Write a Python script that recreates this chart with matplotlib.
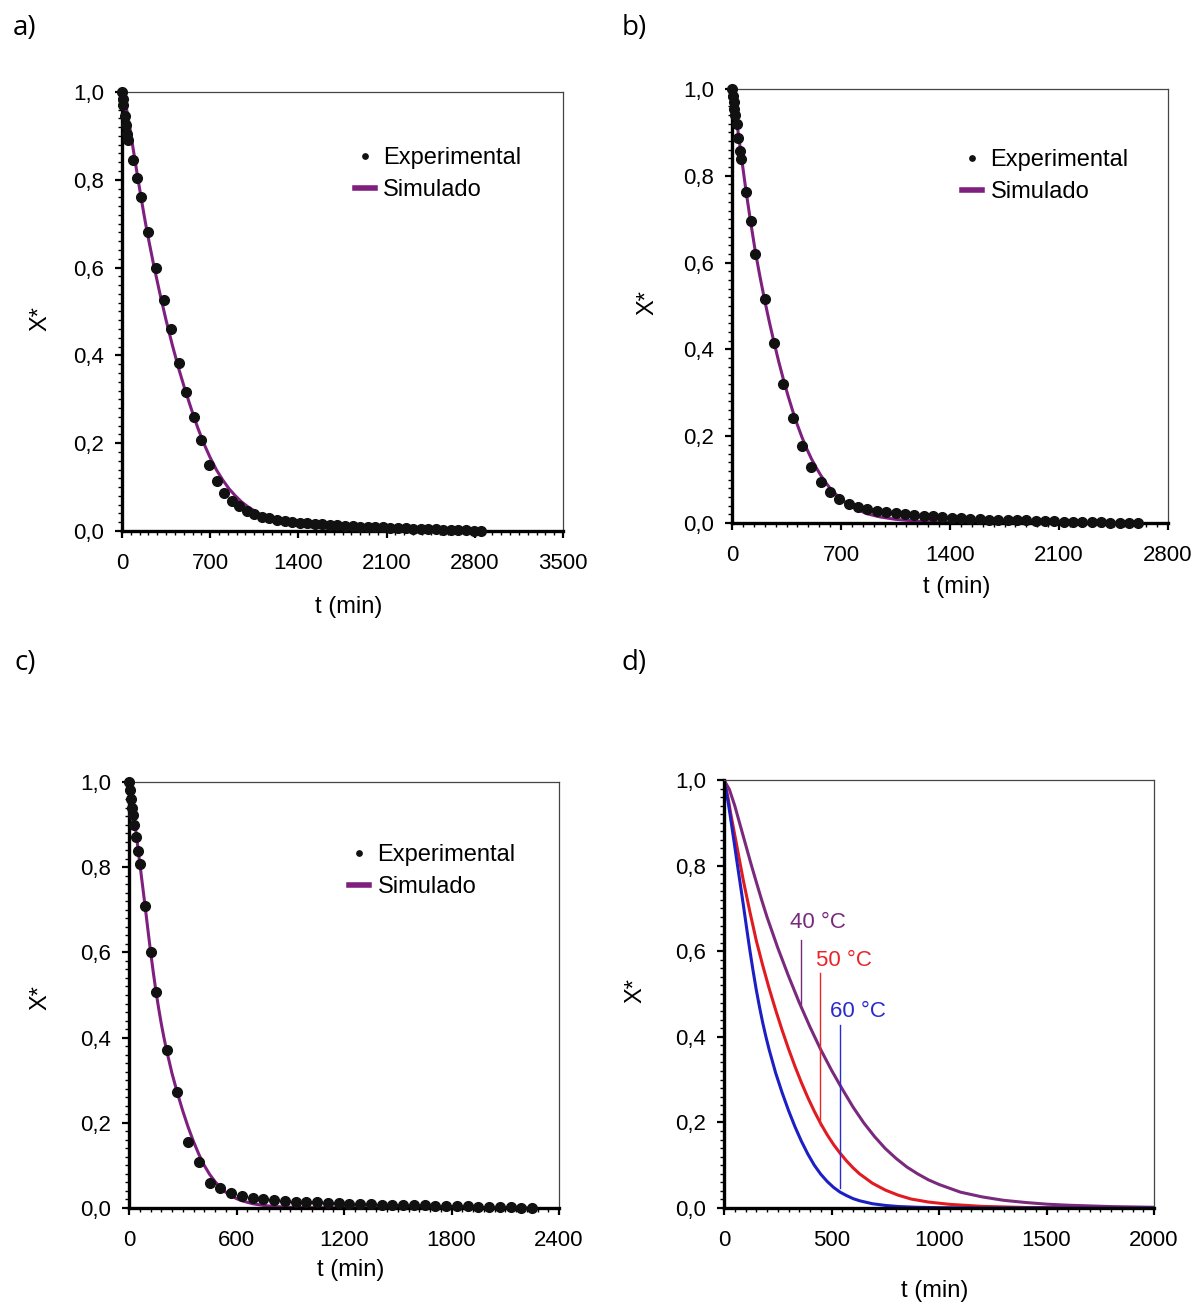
import matplotlib
matplotlib.use("Agg")
import matplotlib.pyplot as plt
from matplotlib.ticker import MultipleLocator, FuncFormatter

plt.rcParams['font.family'] = ['Liberation Sans', 'DejaVu Sans']

# --- experimental drying data (t in min, X* dimensionless) ---
t_40 = [0, 5, 10, 20, 30, 40, 50, 90, 120, 150, 210, 270, 330, 390, 450, 510, 570,
        630, 690, 750, 810, 870, 930, 990, 1050, 1110, 1170, 1230, 1290, 1350, 1410,
        1470, 1530, 1590, 1650, 1710, 1770, 1830, 1890, 1950, 2010, 2070, 2130, 2190,
        2250, 2310, 2370, 2430, 2490, 2550, 2610, 2670, 2730, 2790, 2850]
x_40 = [1.0, 0.985, 0.97, 0.945, 0.925, 0.905, 0.89, 0.845, 0.805, 0.76, 0.68, 0.60,
        0.527, 0.459, 0.383, 0.317, 0.259, 0.208, 0.151, 0.113, 0.087, 0.069, 0.056,
        0.045, 0.038, 0.032, 0.029, 0.026, 0.023, 0.021, 0.019, 0.018, 0.016, 0.015,
        0.014, 0.013, 0.012, 0.011, 0.010, 0.009, 0.009, 0.008, 0.007, 0.007, 0.006,
        0.005, 0.005, 0.004, 0.004, 0.003, 0.003, 0.002, 0.002, 0.001, 0.0]

t_50 = [0, 5, 10, 15, 20, 30, 40, 50, 60, 90, 120, 150, 210, 270, 330, 390, 450, 510,
        570, 630, 690, 750, 810, 870, 930, 990, 1050, 1110, 1170, 1230, 1290, 1350,
        1410, 1470, 1530, 1590, 1650, 1710, 1770, 1830, 1890, 1950, 2010, 2070, 2130,
        2190, 2250, 2310, 2370, 2430, 2490, 2550, 2610]
x_50 = [1.0, 0.985, 0.97, 0.955, 0.94, 0.92, 0.887, 0.857, 0.838, 0.763, 0.696, 0.619,
        0.517, 0.414, 0.321, 0.241, 0.177, 0.129, 0.095, 0.071, 0.055, 0.043, 0.037,
        0.032, 0.028, 0.025, 0.022, 0.020, 0.018, 0.016, 0.015, 0.013, 0.012, 0.011,
        0.010, 0.009, 0.008, 0.008, 0.007, 0.006, 0.006, 0.005, 0.004, 0.004, 0.003,
        0.003, 0.002, 0.002, 0.002, 0.001, 0.001, 0.001, 0.0]

t_60 = [0, 5, 10, 15, 20, 30, 40, 50, 60, 90, 120, 150, 210, 270, 330, 390, 450, 510,
        570, 630, 690, 750, 810, 870, 930, 990, 1050, 1110, 1170, 1230, 1290, 1350,
        1410, 1470, 1530, 1590, 1650, 1710, 1770, 1830, 1890, 1950, 2010, 2070, 2130,
        2190, 2250]
x_60 = [1.0, 0.982, 0.96, 0.94, 0.923, 0.90, 0.871, 0.839, 0.807, 0.708, 0.601, 0.508,
        0.370, 0.272, 0.155, 0.109, 0.059, 0.046, 0.035, 0.028, 0.0225, 0.020, 0.018,
        0.016, 0.015, 0.014, 0.013, 0.012, 0.011, 0.010, 0.009, 0.009, 0.008, 0.007,
        0.007, 0.006, 0.006, 0.005, 0.005, 0.004, 0.004, 0.003, 0.003, 0.002, 0.002,
        0.001, 0.0]

# --- simulated curves from the diffusion model ---
ts_40 = [0, 25, 50, 75, 100, 125, 150, 175, 200, 250, 300, 350, 400, 450, 500, 550,
         600, 650, 700, 750, 800, 850, 900, 950, 1000, 1100, 1200, 1300, 1400, 1500,
         1600, 1800, 2000, 2200, 2500, 2850]
xs_40 = [1.0, 0.978, 0.94, 0.895, 0.85, 0.805, 0.762, 0.72, 0.68, 0.608, 0.542, 0.48,
         0.423, 0.37, 0.322, 0.278, 0.236, 0.199, 0.167, 0.139, 0.116, 0.096, 0.08,
         0.066, 0.055, 0.037, 0.026, 0.018, 0.013, 0.009, 0.0065, 0.0033, 0.0017,
         0.0009, 0.0003, 0.0]

ts_50 = [0, 10, 20, 30, 45, 60, 90, 120, 150, 180, 210, 240, 270, 300, 330, 360, 390,
         420, 450, 480, 510, 540, 570, 600, 630, 690, 750, 810, 870, 950, 1050, 1200,
         1400, 1700, 2000, 2610]
xs_50 = [1.0, 0.98, 0.955, 0.925, 0.885, 0.845, 0.765, 0.693, 0.625, 0.567, 0.513,
         0.463, 0.416, 0.372, 0.331, 0.293, 0.258, 0.226, 0.197, 0.171, 0.148, 0.128,
         0.11, 0.094, 0.08, 0.058, 0.042, 0.03, 0.021, 0.014, 0.0085, 0.0038, 0.0013,
         0.0004, 0.0001, 0.0]

ts_60 = [0, 10, 20, 30, 45, 60, 75, 90, 105, 120, 135, 150, 165, 180, 195, 210, 240,
         270, 300, 330, 360, 390, 420, 450, 480, 510, 540, 570, 600, 630, 690, 750,
         810, 900, 1000, 1200, 2250]
xs_60 = [1.0, 0.975, 0.946, 0.913, 0.862, 0.81, 0.759, 0.708, 0.655, 0.603, 0.555,
         0.51, 0.47, 0.433, 0.4, 0.37, 0.316, 0.27, 0.228, 0.19, 0.156, 0.126, 0.1,
         0.079, 0.062, 0.048, 0.037, 0.029, 0.022, 0.017, 0.01, 0.006, 0.0035, 0.0017,
         0.0008, 0.0001, 0.0]

SIM = '#7f1f80'
W, H = 1203, 1306


def frame(rect):
    # rect in pixels: left, top, right, bottom
    l, t, r, b = rect
    return [l / W, 1 - b / H, (r - l) / W, (b - t) / H]


def style_axes(ax, xmax, xstep, xminor):
    ax.set_xlim(0, xmax)
    ax.set_ylim(0, 1.0)
    ax.xaxis.set_major_locator(MultipleLocator(xstep))
    ax.xaxis.set_minor_locator(MultipleLocator(xminor))
    ax.yaxis.set_major_locator(MultipleLocator(0.2))
    ax.yaxis.set_minor_locator(MultipleLocator(0.02))
    ax.yaxis.set_major_formatter(FuncFormatter(lambda v, p: f'{v:.1f}'.replace('.', ',')))
    ax.tick_params(which='major', direction='out', length=5, width=1.6,
                   labelsize=16, top=False, right=False)
    ax.tick_params(axis='x', which='major', pad=11)
    ax.tick_params(axis='y', which='major', pad=8)
    ax.tick_params(which='minor', direction='out', length=3, width=1.0,
                   top=False, right=False)
    for s in ['left', 'bottom']:
        ax.spines[s].set_linewidth(2.4)
        ax.spines[s].set_color('black')
    for s in ['top', 'right']:
        ax.spines[s].set_linewidth(0.9)
        ax.spines[s].set_color('#444444')


def labels(ax, xl, yl):
    ax.set_xlabel('t (min)', fontsize=17)
    ax.set_ylabel('X*', fontsize=17)
    ax.xaxis.set_label_coords(*xl)
    ax.yaxis.set_label_coords(*yl)
    ax.xaxis.label.set_va('center')
    ax.yaxis.label.set_va('center')


def fit_panel(ax, t, x, ts, xs, leg_anchor):
    ax.plot(ts, xs, color=SIM, lw=2.2, label='Simulado', zorder=2)
    ax.plot(t, x, 'o', color='#111111', ms=7, label='Experimental', zorder=3,
            clip_on=False)
    h, lab = ax.get_legend_handles_labels()
    leg = ax.legend(h[::-1], lab[::-1], loc='upper left', bbox_to_anchor=leg_anchor,
                    frameon=False, fontsize=17, handlelength=0.85, handletextpad=0.35,
                    borderpad=0, borderaxespad=0, labelspacing=0.42, markerscale=0.55)
    leg.legend_handles[1].set_linewidth(4)


fig = plt.figure(figsize=(W / 100, H / 100), dpi=100)

ax_a = fig.add_axes(frame((122, 92, 563, 531)))
fit_panel(ax_a, t_40, x_40, ts_40, xs_40, (0.528, 0.874))
style_axes(ax_a, 3500, 700, 70)
labels(ax_a, (0.515, -0.173), (-0.186, 0.485))

ax_b = fig.add_axes(frame((732, 89, 1168, 523)))
fit_panel(ax_b, t_50, x_50, ts_50, xs_50, (0.528, 0.861))
style_axes(ax_b, 2800, 700, 70)
labels(ax_b, (0.516, -0.147), (-0.193, 0.507))

ax_c = fig.add_axes(frame((129, 782, 559, 1208)))
fit_panel(ax_c, t_60, x_60, ts_60, xs_60, (0.512, 0.854))
style_axes(ax_c, 2400, 600, 60)
labels(ax_c, (0.516, -0.146), (-0.207, 0.495))

# temperature comparison of the simulated curves
ax_d = fig.add_axes(frame((724, 780, 1154, 1208)))
temps = ['40 °C', '50 °C', '60 °C']
curve_colors = ['#7a2a7c', '#e01b22', '#1c1fc4']
text_colors = ['#7a2a7c', '#e8262a', '#2a2ad0']
label_t = [356, 448, 541]
label_pos = [(308, 0.666), (429, 0.579), (494, 0.458)]
leader_top = [0.626, 0.549, 0.427]
leader_bottom = [0.476, 0.195, 0.046]
for ts, xs, c in zip([ts_40, ts_50, ts_60], [xs_40, xs_50, xs_60], curve_colors):
    ax_d.plot(ts, xs, color=c, lw=2.2)
for name, tc, lt, (tx, ty), top, bot in zip(temps, text_colors, label_t, label_pos,
                                            leader_top, leader_bottom):
    ax_d.plot([lt, lt], [bot, top], color=tc, lw=1.0)
    ax_d.text(tx, ty, name, color=tc, fontsize=16, ha='left', va='center')
style_axes(ax_d, 2000, 500, 50)
labels(ax_d, (0.49, -0.194), (-0.205, 0.509))

for lbl, (x, y) in zip(['a)', 'b)', 'c)', 'd)'], [(25, 28), (634, 28), (25, 663), (634, 663)]):
    fig.text(x / W, 1 - y / H, lbl, fontsize=20, family='Open Sans', ha='center', va='center')

plt.savefig('out.png', dpi=100)
